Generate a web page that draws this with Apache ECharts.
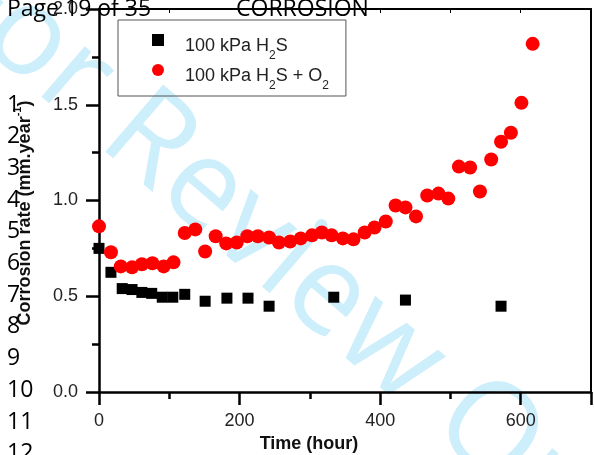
<!DOCTYPE html>
<html>
<head>
<meta charset="utf-8">
<script src="https://cdn.jsdelivr.net/npm/echarts@6/dist/echarts.min.js"></script>
<style>
html,body{margin:0;padding:0;background:#fff;}
#chart{width:594px;height:455px;}
</style>
</head>
<body>
<div id="chart"></div>
<script>
// Data
const timeH2S = [0, 17, 33, 47, 61, 75, 90, 105, 122, 151, 182, 212, 242, 334, 436, 572];
const rateH2S = [0.75, 0.625, 0.54, 0.535, 0.52, 0.515, 0.495, 0.495, 0.51, 0.474, 0.49, 0.49, 0.448, 0.495, 0.48, 0.448];

const timeH2SO2 = [0, 17, 31, 47, 61, 76, 92, 106, 122, 137, 151, 166, 181, 196, 211, 226, 242, 256, 272, 287, 303, 317, 331, 347, 362, 378, 392, 408, 422, 436, 451, 467, 483, 497, 512, 528, 542, 558, 572, 586, 601, 617];
const rateH2SO2 = [0.865, 0.73, 0.656, 0.651, 0.667, 0.672, 0.656, 0.677, 0.83, 0.849, 0.734, 0.813, 0.776, 0.781, 0.813, 0.813, 0.807, 0.781, 0.786, 0.802, 0.818, 0.833, 0.818, 0.802, 0.797, 0.833, 0.859, 0.89, 0.974, 0.964, 0.917, 1.026, 1.036, 1.01, 1.177, 1.172, 1.047, 1.214, 1.307, 1.354, 1.51, 1.818];

const seriesNames = ['100 kPa H2S', '100 kPa H2S + O2'];
const xTitle = 'Time (hour)';
const yTitle = 'Corrosion rate (mm.year';
const pageHeader = 'Page 19 of 35';
const journalHeader = 'CORROSION';
const watermark = 'For Review Only';
const lineNumbers = ['1','2','3','4','5','6','7','8','9','10','11','12'];

const chart = echarts.init(document.getElementById('chart'), null, {renderer: 'canvas'});

const graphics = [
  {type: 'text', x: 302, y: 274, rotation: -0.71, z: -100,
   style: {text: watermark, font: '124px "Open Sans"', fill: '#cdeefb', align: 'center', verticalAlign: 'middle'}},
  {type: 'text', x: 7, y: 9, z: 100,
   style: {text: pageHeader, font: '23px "Open Sans"', fill: '#000', align: 'left', verticalAlign: 'middle'}},
  {type: 'text', x: 236, y: 9, z: 100,
   style: {text: journalHeader, font: '23px "Open Sans"', fill: '#000', align: 'left', verticalAlign: 'middle'}},
  {type: 'text', x: 309, y: 444, z: 50,
   style: {text: xTitle, font: 'bold 18px "Liberation Sans"', fill: '#111', align: 'center', verticalAlign: 'middle'}},
  {type: 'text', x: 23, y: 213, rotation: Math.PI / 2, z: 50,
   style: {
     text: '{t|' + yTitle + '}{sup|-1}{t|)}',
     align: 'center', verticalAlign: 'middle',
     rich: {
       t: {font: 'bold 18px "Liberation Sans"', fill: '#111', verticalAlign: 'bottom', lineHeight: 22},
       sup: {font: 'bold 11px "Liberation Sans"', fill: '#111', verticalAlign: 'top', lineHeight: 12}
     }
   }}
];
lineNumbers.forEach((n, i) => {
  graphics.push({type: 'text', x: 7, y: 105 + i * 31.7, z: 100,
    style: {text: n, font: '23px "Open Sans"', fill: '#000', align: 'left', verticalAlign: 'middle'}});
});

const LF = '"Liberation Sans"';
const richLegend = {
  g: {width: 16, fontSize: 18, lineHeight: 20, verticalAlign: 'top', padding: [7, 0, 0, 0]},
  n: {fontFamily: LF, fontSize: 18, color: '#222', verticalAlign: 'top', lineHeight: 20, padding: [7, 0, 0, 0]},
  s: {fontFamily: LF, fontSize: 12, color: '#222', verticalAlign: 'top', lineHeight: 12, padding: [20, 0, 0, 0]}
};

chart.setOption({
  animation: false,
  backgroundColor: '#fff',
  grid: {left: 99, right: 1, top: 7, bottom: 63, containLabel: false},
  legend: {
    orient: 'vertical',
    left: 118, top: 20,
    padding: [10, 17, 4, 34],
    itemGap: -2,
    itemWidth: 12, itemHeight: 12,
    borderColor: '#555', borderWidth: 1,
    data: seriesNames,
    formatter: function (name) {
      return name === seriesNames[0]
        ? '{g| }{n|100 kPa H}{s|2}{n|S}'
        : '{g| }{n|100 kPa H}{s|2}{n|S + O}{s|2}';
    },
    textStyle: {rich: richLegend}
  },
  xAxis: [{
    type: 'value', min: 0, max: 700, interval: 200,
    axisLine: {show: true, onZero: false, lineStyle: {color: '#000', width: 2.5}},
    axisTick: {show: true, inside: false, length: 13, lineStyle: {color: '#000', width: 2.5}},
    minorTick: {show: true, splitNumber: 2, length: 7, lineStyle: {color: '#000', width: 2.5}},
    axisLabel: {show: true, margin: 20, color: '#222', fontFamily: LF, fontSize: 18,
      formatter: function (v) { return v === 700 ? '' : String(v); }},
    splitLine: {show: false}
  }, {
    type: 'value', min: 0, max: 700, interval: 100, position: 'top',
    axisLine: {show: true, onZero: false, lineStyle: {color: '#000', width: 2}},
    axisTick: {show: true, inside: true, length: 4, lineStyle: {color: '#000', width: 1}},
    axisLabel: {show: false}, splitLine: {show: false}
  }],
  yAxis: [{
    type: 'value', min: 0, max: 2, interval: 0.5,
    axisLine: {show: true, onZero: false, lineStyle: {color: '#000', width: 2.5}},
    axisTick: {show: true, inside: false, length: 13, lineStyle: {color: '#000', width: 2.5}},
    minorTick: {show: true, splitNumber: 2, length: 7, lineStyle: {color: '#000', width: 2.5}},
    axisLabel: {show: true, margin: 21, color: '#222', fontFamily: LF, fontSize: 18,
      formatter: function (v) { return v.toFixed(1); }},
    splitLine: {show: false}
  }, {
    type: 'value', min: 0, max: 2, interval: 0.5, position: 'right',
    axisLine: {show: true, onZero: false, lineStyle: {color: '#000', width: 2}},
    axisTick: {show: false}, axisLabel: {show: false}, splitLine: {show: false}
  }],
  graphic: {elements: graphics},
  series: [{
    type: 'scatter', name: seriesNames[0],
    symbol: 'rect', symbolSize: 11,
    itemStyle: {color: '#000', opacity: 1},
    data: timeH2S.map((t, i) => [t, rateH2S[i]]),
    z: 3
  }, {
    type: 'scatter', name: seriesNames[1],
    symbol: 'circle', symbolSize: 14,
    itemStyle: {color: '#ff0000', opacity: 1},
    data: timeH2SO2.map((t, i) => [t, rateH2SO2[i]]),
    z: 4
  }]
});
</script>
</body>
</html>
